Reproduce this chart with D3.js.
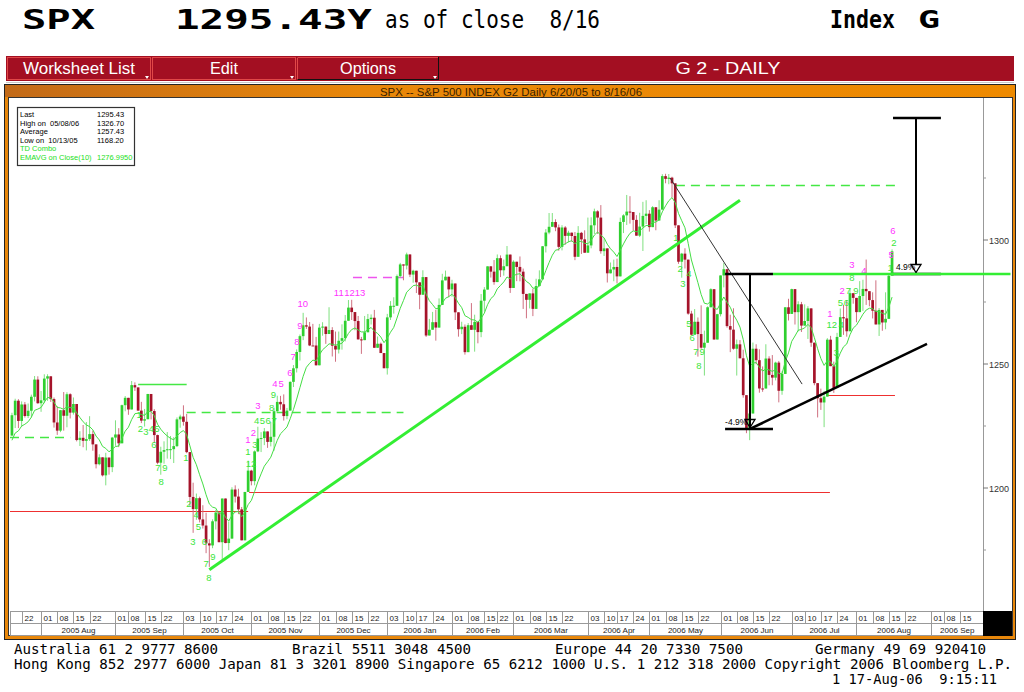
<!DOCTYPE html>
<html><head><meta charset="utf-8">
<script src="https://cdn.jsdelivr.net/npm/d3@7"></script>
<style>html,body{margin:0;padding:0;background:#fff;}svg{display:block}</style>
</head><body><svg id="c" width="1024" height="692"></svg>
<script>
// ---------------- DATA ----------------
const firstDate = "2005-07-19";
const axisEndDate = "2006-09-22";
const holidays = ["2005-09-05","2005-11-24","2005-12-26","2006-01-02","2006-01-16","2006-02-20","2006-04-14","2006-05-29","2006-07-04","2006-09-04"];

const opens = [
1221.13,1229.35,1235.20,1227.04,1233.68,1229.03,1231.16,1236.79,1243.72,
1234.18,1235.35,1244.12,1245.04,1235.86,1226.42,1223.13,1231.38,1229.13,1237.81,1230.39,1233.87,1219.34,1220.24,1219.02,1219.71,1221.73,1217.59,1209.59,1212.37,1205.10,1212.28,1208.41,
1220.33,1221.59,1218.02,1233.39,1236.36,1231.67,1241.48,1240.56,1231.20,1227.16,1227.73,1237.91,1231.02,1221.34,1210.20,1214.62,1215.29,1215.63,1215.66,1216.89,1227.68,
1228.81,1226.70,1214.47,1196.39,1191.49,1195.90,1187.33,1184.87,1177.68,1176.84,1186.57,1190.10,1178.14,1195.76,1177.80,1179.59,1199.38,1196.54,1191.38,1178.90,1198.41,
1207.01,1202.76,1214.76,1219.94,1220.14,1222.81,1218.59,1220.65,1230.96,1234.72,1233.76,1229.01,1231.21,1242.80,1248.27,1254.85,1261.23,1265.61,1265.08,1257.48,1257.46,
1249.48,1264.67,1265.08,1262.09,1263.70,1257.37,1255.84,1259.37,1260.43,1267.43,1272.74,1270.94,1267.32,1259.92,1259.62,1262.79,1268.12,1268.66,1256.54,1258.17,1254.42,
1248.29,1268.80,1273.46,1273.48,1285.45,1290.15,1289.69,1294.18,1286.06,1287.61,1282.93,1277.93,1285.04,1261.49,1263.82,1266.86,1264.68,1273.83,1283.72,1285.19,
1280.08,1282.46,1270.84,1264.03,1265.02,1254.78,1265.65,1263.78,1266.99,1262.86,1275.53,1280.00,1289.38,1287.24,1283.03,1292.67,1287.79,1289.43,1294.12,
1280.66,1291.24,1289.14,1287.23,1278.26,1275.88,1278.47,1272.23,1281.42,1284.13,1297.48,1303.02,1305.33,1307.25,1305.08,1297.23,1305.04,1301.67,1302.95,1301.61,1293.23,1302.89,1300.25,
1294.87,1297.81,1305.93,1311.56,1309.04,1295.50,1296.62,1286.57,1288.12,1289.12,1285.33,1307.28,1309.93,1311.46,1311.28,1308.11,1301.74,1305.41,1309.72,
1310.61,1305.19,1313.21,1307.85,1312.25,1325.76,1324.66,1325.14,1322.85,1305.92,1291.24,1294.50,1292.08,1270.32,1261.81,1267.03,1262.07,1256.58,1258.57,1272.88,1280.16,1259.87,
1270.09,1285.71,1288.22,1265.29,1263.85,1256.15,1257.93,1252.30,1237.44,1223.69,1230.04,1256.16,1251.54,1240.13,1240.12,1252.20,1245.60,1244.50,1250.56,1239.20,1246.00,1272.87,
1270.20,1280.19,1270.91,1274.08,1265.48,1267.34,1272.43,1258.60,1242.29,1236.20,1234.49,1236.86,1259.81,1249.13,1240.29,1260.91,1268.88,1268.40,1263.20,1278.55,
1276.66,1270.92,1277.41,1280.27,1279.36,1275.77,1271.48,1265.95,1271.81,1266.74,1268.21,1285.58];

const highs = [
1230.34,1236.00,1235.83,1234.92,1234.69,1234.08,1237.64,1245.15,1245.04,
1239.10,1245.86,1245.86,1245.04,1236.48,1232.96,1231.38,1238.70,1238.60,1238.20,1236.50,1233.87,1222.90,1225.40,1226.59,1228.96,1223.10,1217.59,1213.60,1212.37,1214.20,1212.28,1220.60,
1227.29,1224.12,1233.61,1237.06,1236.36,1243.13,1242.60,1240.56,1234.74,1231.88,1237.95,1237.91,1231.79,1221.52,1216.64,1218.83,1222.56,1220.98,1220.52,1228.46,1229.57,
1233.34,1229.88,1214.49,1202.14,1197.76,1196.52,1193.06,1190.02,1179.34,1187.38,1191.21,1190.10,1195.76,1195.76,1186.46,1200.30,1201.08,1199.71,1192.35,1198.41,1211.04,
1207.34,1215.17,1224.70,1222.52,1224.18,1222.81,1226.59,1232.41,1237.20,1237.15,1237.75,1232.29,1242.96,1249.58,1255.89,1261.90,1270.64,1268.78,1266.94,1266.18,1260.93,
1266.17,1266.85,1265.08,1272.89,1264.85,1263.08,1263.08,1266.00,1269.76,1275.80,1275.88,1270.94,1269.37,1260.94,1269.37,1270.19,1270.00,1271.83,1261.10,1258.64,1254.42,
1270.22,1275.37,1276.91,1286.09,1290.78,1290.15,1294.90,1294.18,1288.00,1287.61,1282.93,1287.79,1285.04,1268.19,1271.00,1271.87,1276.44,1286.38,1287.67,1285.20,
1283.96,1282.46,1270.87,1267.04,1265.94,1266.49,1274.56,1269.89,1266.99,1278.21,1281.00,1289.39,1289.47,1291.92,1294.17,1293.80,1292.11,1297.57,1294.12,
1291.80,1291.24,1293.37,1288.48,1278.26,1278.47,1280.33,1284.38,1287.77,1297.57,1304.40,1310.88,1310.88,1308.35,1306.24,1305.97,1305.60,1303.74,1303.00,1303.23,1305.60,1303.26,1303.90,
1309.04,1309.15,1312.64,1311.99,1314.07,1300.74,1296.62,1290.93,1292.09,1292.47,1309.02,1310.39,1318.16,1317.67,1311.28,1310.01,1310.97,1315.39,1316.04,
1312.05,1313.66,1313.21,1316.04,1326.53,1326.70,1326.60,1325.51,1322.85,1305.92,1294.81,1296.67,1292.08,1271.45,1272.15,1268.77,1273.67,1263.46,1273.26,1280.54,1280.16,1270.22,
1285.71,1290.68,1288.22,1269.88,1272.47,1259.85,1259.64,1255.77,1237.44,1231.46,1258.64,1257.96,1255.93,1249.01,1257.96,1253.13,1253.61,1250.92,1251.24,1247.06,1272.89,1276.30,
1280.38,1280.19,1275.28,1275.04,1274.06,1273.31,1272.43,1258.60,1242.29,1240.07,1239.15,1260.42,1261.35,1250.96,1262.56,1272.39,1273.89,1275.76,1280.42,1278.66,
1276.66,1283.42,1283.96,1292.12,1279.36,1278.90,1283.75,1272.58,1271.81,1278.90,1286.23,1296.21];

const lows = [
1221.13,1224.17,1224.16,1224.79,1228.40,1228.21,1228.44,1234.92,1233.99,
1230.71,1234.18,1235.15,1234.71,1224.36,1221.41,1222.51,1223.13,1224.48,1228.04,1229.60,1218.80,1216.94,1216.44,1215.17,1218.97,1215.02,1207.90,1209.13,1204.65,1201.07,1205.37,1206.40,
1216.99,1216.48,1218.02,1230.93,1229.51,1231.67,1239.15,1231.20,1226.16,1224.77,1227.73,1227.65,1218.15,1209.59,1205.35,1209.80,1211.84,1211.65,1210.07,1216.50,1224.30,
1225.15,1214.02,1192.75,1181.92,1187.17,1186.12,1183.65,1173.72,1168.20,1175.73,1183.27,1178.13,1170.55,1177.73,1174.92,1179.59,1194.13,1189.47,1178.89,1178.90,1198.41,
1201.07,1201.07,1214.45,1214.49,1217.29,1216.18,1216.78,1215.05,1230.72,1231.54,1227.18,1227.73,1231.21,1240.71,1246.59,1251.40,1259.61,1264.14,1257.21,1257.46,1249.39,
1249.48,1261.42,1258.12,1262.09,1253.03,1250.91,1254.24,1255.78,1259.12,1267.43,1267.74,1263.62,1259.92,1254.08,1259.62,1262.79,1265.92,1256.54,1256.54,1254.42,1248.29,
1245.74,1267.74,1270.30,1273.48,1284.66,1283.76,1288.12,1285.04,1282.78,1278.61,1272.08,1277.93,1260.92,1261.49,1263.82,1259.42,1264.68,1273.83,1283.72,1276.92,
1277.13,1267.72,1261.02,1262.05,1253.78,1254.78,1263.78,1254.98,1258.34,1260.80,1271.11,1280.00,1284.85,1281.95,1283.03,1285.04,1285.62,1289.43,1278.66,
1280.66,1283.41,1283.33,1272.20,1268.42,1272.40,1269.31,1272.23,1281.42,1284.13,1294.97,1302.32,1305.32,1303.55,1295.70,1295.81,1298.11,1299.05,1299.33,1291.87,1293.23,1294.38,1294.87,
1294.87,1296.65,1302.44,1302.44,1294.49,1293.56,1282.86,1286.54,1283.37,1282.49,1285.33,1302.79,1306.06,1306.60,1303.79,1301.74,1301.17,1295.57,1306.41,
1303.38,1305.19,1303.92,1307.85,1312.25,1322.87,1322.48,1317.14,1304.82,1290.38,1284.81,1288.51,1269.87,1261.75,1261.81,1252.98,1256.15,1245.34,1258.57,1272.88,1259.85,1259.87,
1269.19,1280.90,1264.64,1254.78,1255.77,1245.34,1252.30,1236.43,1222.10,1219.29,1230.04,1249.88,1238.43,1238.78,1240.09,1241.43,1241.43,1243.39,1234.53,1237.59,1245.94,1267.54,
1270.20,1265.91,1263.13,1262.92,1265.48,1260.11,1256.93,1241.43,1228.45,1231.49,1224.54,1236.86,1249.13,1238.36,1240.29,1260.91,1261.75,1261.02,1263.20,1274.31,
1266.84,1270.92,1271.42,1273.82,1273.26,1268.37,1265.95,1261.30,1263.40,1264.00,1268.21,1285.58];

const closes = [
1229.35,1235.20,1227.04,1233.68,1229.03,1231.16,1236.79,1243.72,1234.18,
1235.35,1244.12,1245.04,1235.86,1226.42,1223.13,1231.38,1229.13,1237.81,1230.39,1233.87,1219.34,1220.24,1219.02,1219.71,1221.73,1217.59,1209.59,1212.37,1205.10,1212.28,1208.41,1220.33,
1221.59,1218.02,1233.39,1236.36,1231.67,1241.48,1240.56,1231.20,1227.16,1227.73,1237.91,1231.02,1221.34,1210.20,1214.62,1215.29,1215.63,1215.66,1216.89,1227.68,1228.81,
1226.70,1214.47,1196.39,1191.49,1195.90,1187.33,1184.87,1177.68,1176.84,1186.57,1190.10,1178.14,1195.76,1177.80,1179.59,1199.38,1196.54,1191.38,1178.90,1198.41,1207.01,
1202.76,1214.76,1219.94,1220.14,1222.81,1218.59,1220.65,1230.96,1234.72,1233.76,1229.01,1231.21,1242.80,1248.27,1254.85,1261.23,1265.61,1265.08,1257.48,1257.46,1249.48,
1264.67,1265.08,1262.09,1263.70,1257.37,1255.84,1259.37,1260.43,1267.43,1272.74,1270.94,1267.32,1259.92,1259.62,1262.79,1268.12,1268.66,1256.54,1258.17,1254.42,1248.29,
1268.80,1273.46,1273.48,1285.45,1290.15,1289.69,1294.18,1286.06,1287.61,1282.93,1277.93,1285.04,1261.49,1263.82,1266.86,1264.68,1273.83,1283.72,1285.19,1280.08,
1282.46,1270.84,1264.03,1265.02,1254.78,1265.65,1263.78,1266.99,1262.86,1275.53,1280.00,1289.38,1287.24,1283.03,1292.67,1287.79,1289.43,1294.12,1280.66,
1291.24,1289.14,1287.23,1278.26,1275.88,1278.47,1272.23,1281.42,1284.13,1297.48,1303.02,1305.33,1307.25,1305.08,1297.23,1305.04,1301.67,1302.95,1301.61,1293.23,1302.89,1300.25,1294.87,
1297.81,1305.93,1311.56,1309.04,1295.50,1296.62,1286.57,1288.12,1289.12,1285.33,1307.28,1309.93,1311.46,1311.28,1308.11,1301.74,1305.41,1309.72,1310.61,
1305.19,1313.21,1307.85,1312.25,1325.76,1324.66,1325.14,1322.85,1305.92,1291.24,1294.50,1292.08,1270.32,1261.81,1267.03,1262.07,1256.58,1258.57,1272.88,1280.16,1259.87,1270.09,
1285.71,1288.22,1265.29,1263.85,1256.15,1257.93,1252.30,1237.44,1223.69,1230.04,1256.16,1251.54,1240.13,1240.12,1252.20,1245.60,1244.50,1250.56,1239.20,1246.00,1272.87,1270.20,
1280.19,1270.91,1274.08,1265.48,1267.34,1272.43,1258.60,1242.29,1236.20,1234.49,1236.86,1259.81,1249.13,1240.29,1260.91,1268.88,1268.40,1263.20,1278.55,1276.66,
1270.92,1277.41,1280.27,1279.36,1275.77,1271.48,1265.95,1271.81,1266.74,1268.21,1285.58,1295.43];

const emaPeriod = 10;
const emaSeed = 1217;

const tickDates = ["2005-07-22","2005-08-01","2005-08-08","2005-08-15","2005-08-22","2005-09-01","2005-09-08","2005-09-15","2005-09-22","2005-10-03","2005-10-10","2005-10-17","2005-10-24","2005-11-01","2005-11-08","2005-11-15","2005-11-22","2005-12-01","2005-12-08","2005-12-15","2005-12-22","2006-01-03","2006-01-10","2006-01-17","2006-01-24","2006-02-01","2006-02-08","2006-02-15","2006-02-22","2006-03-01","2006-03-08","2006-03-15","2006-03-22","2006-04-03","2006-04-10","2006-04-17","2006-04-24","2006-05-01","2006-05-08","2006-05-15","2006-05-22","2006-06-01","2006-06-08","2006-06-15","2006-06-22","2006-07-03","2006-07-10","2006-07-17","2006-07-24","2006-08-01","2006-08-08","2006-08-15","2006-08-22","2006-09-01","2006-09-08","2006-09-15"];
const monthStarts = ["2005-08-01","2005-09-01","2005-10-03","2005-11-01","2005-12-01","2006-01-03","2006-02-01","2006-03-01","2006-04-03","2006-05-01","2006-06-01","2006-07-03","2006-08-01","2006-09-01"];
const monthLabels = ["2005 Aug","2005 Sep","2005 Oct","2005 Nov","2005 Dec","2006 Jan","2006 Feb","2006 Mar","2006 Apr","2006 May","2006 Jun","2006 Jul","2006 Aug","2006 Sep"];

const yLabelTicks = [1200,1250,1300];
const yMinorTicks = [1175,1225,1275,1325];

const legendLabels = ["Last","High on  05/08/06","Average","Low on  10/13/05","TD Combo","EMAVG on Close(10)"];
const legendValues = ["1295.43","1326.70","1257.43","1168.20","","1276.9950"];
const legendKinds = ["price","price","price","price","study","study"];

// TD Combo count labels: [trading-day index, price level, text, kind]
const tdLabels = [
[39.3,1229.5,"1","g"],[39.7,1224.0,"2","g"],[41.4,1222.8,"3","g"],[43.1,1224.0,"4","g"],[44.8,1224.0,"5","g"],[43.9,1217.6,"6","g"],[45.1,1208.1,"7","g"],[47.3,1208.1,"9","g"],[46.1,1202.6,"8","g"],
[53.8,1212.1,"1","g"],[54.7,1193.5,"2","g"],[55.9,1178.2,"3","g"],[56.9,1189.1,"4","g"],[57.6,1184.5,"5","g"],[59.5,1178.5,"6","g"],[60.0,1169.3,"7","g"],[62.1,1172.2,"9","g"],[60.9,1163.9,"8","g"],
[72.9,1214.5,"1","g"],[73.9,1210.0,"12","g"],[75.1,1217.6,"3","g"],[75.6,1227.0,"4","g"],[77.4,1227.0,"5","g"],[79.2,1227.0,"6","g"],[81.0,1227.0,"7","g"],[80.3,1232.5,"8","g"],[80.8,1237.5,"9","g"],
[72.9,1219.6,"1","m"],[74.6,1222.4,"2","m"],[76.0,1233.3,"3","m"],[81.3,1242.2,"4","m"],[83.2,1242.2,"5","m"],[85.9,1246.4,"6","m"],[86.9,1252.8,"7","m"],[88.1,1258.9,"8","m"],[89.0,1265.3,"9","m"],[89.9,1274.2,"10","m"],
[101.0,1278.6,"11","m"],[104.3,1278.6,"12","m"],[107.6,1278.6,"13","m"],
[205.2,1300.8,"1","g"],[206.5,1288.3,"2","g"],[209.2,1286.3,"4","g"],[207.4,1282.5,"3","g"],[209.2,1266.1,"5","g"],[210.2,1260.5,"6","g"],[211.4,1254.8,"7","g"],[213.3,1254.8,"9","g"],[212.3,1249.5,"8","g"],
[252.8,1270.4,"1","m"],[253.4,1265.7,"12","g"],[256.3,1265.7,"4","g"],[254.7,1254.4,"3","g"],
[256.6,1279.6,"2","m"],[256.0,1274.8,"5","g"],[257.9,1274.8,"6","g"],[258.5,1279.6,"7","g"],[260.8,1279.6,"9","g"],[259.6,1284.7,"8","g"],[259.6,1290.0,"3","m"],[263.3,1287.5,"4","m"],
[272.3,1303.6,"6","m"],[272.6,1298.8,"2","g"],[271.7,1294.0,"5","m"],[271.4,1289.0,"1","g"]
];

// horizontal study levels: [from index, to index, price, kind]
const levels = [
[-0.6,18,1220.6,"greenDash"],[39,54,1241.9,"green"],[54,121,1230.6,"greenDash"],
[-0.6,73,1190.7,"red"],[73.3,252.8,1198.4,"red"],[105.4,120.9,1285.1,"magDash"],
[205.2,272.9,1322.2,"greenDash"],[252.2,272.9,1237.5,"red"]
];
const breakoutLevel = [235.2,308.6,1286.3];
// trend lines: [index1, price1, index2, price2]
const upTrend = [61,1167,225,1316];
const supportTrend = [228.1,1223.8,282.8,1258.1];
const downTrend = [203.4,1325,244.2,1241.9];
// measured moves: [left index, right index, stem index, start price, end price, label]
const projections = [
[220.4,235.2,228.1,1286.3,1223.8,"-4.9%"],
[272.3,287.1,279.4,1349.2,1286.3,"4.9%"]
];

// --------------- RENDER ---------------
const svg = d3.select("#c");
const sans = "'Liberation Sans', Arial, sans-serif";
const narrow = "'Liberation Sans Narrow', 'Arial Narrow', 'Liberation Sans', Arial, sans-serif";
const mono = "'DejaVu Sans Mono', 'Liberation Mono', monospace";

// trading calendar
const hol = new Set(holidays);
const fmt = d3.utcFormat("%Y-%m-%d");
const allDays = d3.utcDay.range(new Date(firstDate+"T00:00Z"), d3.utcDay.offset(new Date(axisEndDate+"T00:00Z"),1))
  .filter(d => d.getUTCDay()!==0 && d.getUTCDay()!==6 && !hol.has(fmt(d))).map(fmt);
const dayIndex = new Map(allDays.map((d,i)=>[d,i]));

const x = d3.scaleLinear().domain([-0.6, 299.8]).range([10, 982]);
const y = d3.scaleLinear().domain([1200, 1300]).range([488, 240]);

// header
const hdr = svg.append("g").attr("fill","#000");
hdr.append("text").attr("x",22).attr("y",29).attr("font-family",mono).attr("font-weight","bold")
  .attr("font-size",27).attr("textLength",73).attr("lengthAdjust","spacingAndGlyphs").text("SPX");
hdr.append("text").attr("x",175).attr("y",29).attr("font-family",mono).attr("font-weight","bold")
  .attr("font-size",27).attr("textLength",197).attr("lengthAdjust","spacingAndGlyphs").text("1295.43Y");
hdr.append("text").attr("x",385).attr("y",28).attr("font-family",mono)
  .attr("font-size",25).attr("textLength",215).attr("lengthAdjust","spacingAndGlyphs").style("white-space","pre").text("as of close  8/16");
hdr.append("text").attr("x",830).attr("y",28).attr("font-family",mono).attr("font-weight","bold")
  .attr("font-size",25).attr("textLength",65).attr("lengthAdjust","spacingAndGlyphs").text("Index");
hdr.append("text").attr("x",918).attr("y",28).attr("font-family",mono).attr("font-weight","bold")
  .attr("font-size",25).attr("textLength",22).attr("lengthAdjust","spacingAndGlyphs").text("G");

// toolbar
const tb = svg.append("g");
tb.append("rect").attr("x",6).attr("y",56).attr("width",1008).attr("height",25).attr("fill","#a30f22");
const buttons = [[7,144,"Worksheet List",112],[152,144,"Edit",28],[297,142,"Options",56]];
buttons.forEach(([bx,bw,lab,tl],k)=>{
  tb.append("rect").attr("x",bx+0.5).attr("y",57.5).attr("width",bw-1).attr("height",22)
    .attr("fill","#a30f22").attr("stroke",k===2?"#111":"#e04848").attr("stroke-width",1);
  if(k===2) tb.append("path").attr("d",`M${bx+0.5},79.5V57.5H${bx+bw-1}`).attr("stroke","#e04848").attr("fill","none");
  tb.append("text").attr("x",bx+bw/2).attr("y",74).attr("text-anchor","middle").attr("fill","#fff")
    .attr("font-family",narrow).attr("font-size",16).attr("textLength",tl).attr("lengthAdjust","spacingAndGlyphs").text(lab);
  tb.append("path").attr("d",`M${bx+bw-6},76h4l-2,3z`).attr("fill","#fff");
});
tb.append("text").attr("x",728).attr("y",74).attr("text-anchor","middle").attr("fill","#fff")
  .attr("font-family",narrow).attr("font-size",17).attr("textLength",105).attr("lengthAdjust","spacingAndGlyphs").text("G  2 - DAILY");
svg.append("line").attr("x1",6).attr("x2",1014).attr("y1",82.5).attr("y2",82.5).attr("stroke","#c8c8c8");

// frame
const defs = svg.append("defs");
const gr = defs.append("linearGradient").attr("id","tg").attr("x1",0).attr("x2",1).attr("y1",0).attr("y2",0);
gr.append("stop").attr("offset",0).attr("stop-color","#c26a18");
gr.append("stop").attr("offset",0.35).attr("stop-color","#e8870a");
gr.append("stop").attr("offset",1).attr("stop-color","#ee8a00");
defs.append("clipPath").attr("id","plot").append("rect").attr("x",10).attr("y",98).attr("width",973).attr("height",513);

svg.append("rect").attr("x",4.5).attr("y",84.5).attr("width",1011).attr("height",555).attr("fill","#e8870a").attr("stroke","#222");
svg.append("rect").attr("x",5).attr("y",85).attr("width",1010).attr("height",12).attr("fill","url(#tg)");
svg.append("rect").attr("x",8.5).attr("y",97.5).attr("width",1004).attr("height",538).attr("fill","#fff").attr("stroke","#333");
svg.append("text").attr("x",511).attr("y",96).attr("text-anchor","middle").attr("font-family",sans)
  .attr("font-size",11).attr("fill","#3a2200").attr("textLength",262).attr("lengthAdjust","spacingAndGlyphs")
  .text("SPX -- S&P 500 INDEX G2 Daily 6/20/05 to 8/16/06");

// y axis
const ya = svg.append("g");
ya.append("line").attr("x1",983.5).attr("x2",983.5).attr("y1",98).attr("y2",611).attr("stroke","#999");
yLabelTicks.forEach(v=>{
  ya.append("line").attr("x1",983).attr("x2",988).attr("y1",y(v)).attr("y2",y(v)).attr("stroke","#777");
  ya.append("text").attr("x",989).attr("y",y(v)+3.5).attr("font-family",sans).attr("font-size",9).attr("fill","#333").text(v);
});
yMinorTicks.forEach(v=>{
  ya.append("line").attr("x1",983).attr("x2",986).attr("y1",y(v)).attr("y2",y(v)).attr("stroke","#999");
});

// x axis
const xa = svg.append("g");
xa.append("rect").attr("x",983).attr("y",611).attr("width",29).attr("height",25).attr("fill","#000");
[611.5,623.5,635.5].forEach(yy=>xa.append("line").attr("x1",10).attr("x2",983).attr("y1",yy).attr("y2",yy).attr("stroke","#999"));
xa.append("line").attr("x1",10.5).attr("x2",10.5).attr("y1",611).attr("y2",636).attr("stroke","#999");
tickDates.forEach(d=>{
  const xx = Math.round(x(dayIndex.get(d)))+0.5;
  xa.append("line").attr("x1",xx).attr("x2",xx).attr("y1",611).attr("y2",623).attr("stroke","#999");
  xa.append("text").attr("x",xx+2).attr("y",621).attr("font-family",sans).attr("font-size",8).attr("fill","#222").text(d.slice(8));
});
monthStarts.forEach((d,k)=>{
  const x0 = Math.round(x(dayIndex.get(d)))+0.5;
  const x1 = k+1<monthStarts.length ? Math.round(x(dayIndex.get(monthStarts[k+1])))+0.5 : 983;
  xa.append("line").attr("x1",x0).attr("x2",x0).attr("y1",623).attr("y2",636).attr("stroke","#999");
  xa.append("text").attr("x",(x0+x1)/2).attr("y",633).attr("text-anchor","middle").attr("font-family",sans)
    .attr("font-size",8).attr("fill","#222").text(monthLabels[k]);
});

// plot
const plot = svg.append("g").attr("clip-path","url(#plot)");
const levelStyle = {
  greenDash:{stroke:"#44e844",w:1.3,dash:"9,6"},
  green:{stroke:"#44e844",w:1.3,dash:null},
  red:{stroke:"#ee3030",w:1,dash:null},
  magDash:{stroke:"#ee55ee",w:1.3,dash:"9,6"}
};
levels.forEach(([a,b,p,k])=>{
  const s=levelStyle[k];
  plot.append("line").attr("x1",x(a)).attr("x2",x(b)).attr("y1",Math.round(y(p))+0.5).attr("y2",Math.round(y(p))+0.5)
    .attr("stroke",s.stroke).attr("stroke-width",s.w).attr("stroke-dasharray",s.dash);
});

const data = closes.map((c,i)=>({i,o:opens[i],h:Math.max(highs[i],opens[i],c),l:Math.min(lows[i],opens[i],c),c}));
const up="#2fcf2f", dn="#a5132a";
const cg = plot.append("g");
cg.selectAll("line.w").data(data).enter().append("line")
  .attr("x1",d=>x(d.i)).attr("x2",d=>x(d.i)).attr("y1",d=>y(d.h)).attr("y2",d=>y(d.l))
  .attr("stroke",d=>d.c>=d.o?"#7fe07f":"#cf7080").attr("stroke-width",1);
cg.selectAll("rect.b").data(data).enter().append("rect")
  .attr("x",d=>x(d.i)-1.35).attr("width",2.7)
  .attr("y",d=>y(Math.max(d.o,d.c))).attr("height",d=>Math.max(1,Math.abs(y(d.o)-y(d.c))))
  .attr("fill",d=>d.c>=d.o?up:dn);

// EMA
let e = emaSeed; const alpha = 2/(emaPeriod+1);
const ema = closes.map(c=> (e = e + alpha*(c-e)));
plot.append("path").datum(ema).attr("fill","none").attr("stroke","#44dd44").attr("stroke-width",1)
  .attr("d",d3.line().x((v,i)=>x(i)).y(v=>y(v)));

// trend lines
plot.append("line").attr("x1",x(upTrend[0])).attr("y1",y(upTrend[1])).attr("x2",x(upTrend[2])).attr("y2",y(upTrend[3]))
  .attr("stroke","#33ee33").attr("stroke-width",3);
plot.append("line").attr("x1",x(downTrend[0])).attr("y1",y(downTrend[1])).attr("x2",x(downTrend[2])).attr("y2",y(downTrend[3]))
  .attr("stroke","#333").attr("stroke-width",1);
plot.append("line").attr("x1",x(supportTrend[0])).attr("y1",y(supportTrend[1])).attr("x2",x(supportTrend[2])).attr("y2",y(supportTrend[3]))
  .attr("stroke","#000").attr("stroke-width",2.5);
svg.append("line").attr("x1",x(breakoutLevel[0])).attr("x2",x(breakoutLevel[1])).attr("y1",y(breakoutLevel[2])).attr("y2",y(breakoutLevel[2]))
  .attr("stroke","#33ee33").attr("stroke-width",2.5);

// measured move projections
projections.forEach(([a,b,s,p1,p2,lab],k)=>{
  const g = plot.append("g");
  g.append("line").attr("x1",x(a)).attr("x2",x(b)).attr("y1",y(p1)).attr("y2",y(p1)).attr("stroke","#000").attr("stroke-width",2.5);
  g.append("line").attr("x1",x(a)).attr("x2",x(b)).attr("y1",y(p2)).attr("y2",y(p2)).attr("stroke","#000").attr("stroke-width",2.5);
  g.append("line").attr("x1",x(s)).attr("x2",x(s)).attr("y1",y(p1)).attr("y2",y(p2)-1).attr("stroke","#000").attr("stroke-width",2);
  const tx=x(s), ty=y(p2)-1.5;
  g.append("path").attr("d",`M${tx-5},${ty-8}H${tx+5}L${tx},${ty}Z`).attr("fill",k===1?"#fff":"none").attr("stroke","#000").attr("stroke-width",1.3);
  g.append("text").attr("x",k===0?x(a):x(a)+3).attr("y",y(p2)-4).attr("font-family",sans).attr("font-size",8.5).attr("fill","#000").text(lab);
});

// TD combo labels
const tdColor = {g:"#3ae63a", m:"#ff33ff"};
plot.selectAll("text.td").data(tdLabels).enter().append("text")
  .attr("x",d=>x(d[0])).attr("y",d=>y(d[1])+3.3).attr("text-anchor","middle")
  .attr("font-family",sans).attr("font-size",9.5).attr("fill",d=>tdColor[d[3]]).text(d=>d[2]);

// legend
const lg = svg.append("g");
lg.append("rect").attr("x",17.5).attr("y",107.5).attr("width",117).attr("height",58).attr("fill","#fff").attr("stroke","#333").attr("stroke-width",1.2);
legendLabels.forEach((t,k)=>{
  const col = legendKinds[k]==="price" ? "#000" : "#22e022";
  const yy = 117 + k*8.6;
  lg.append("text").attr("x",20).attr("y",yy).attr("font-family",sans).attr("font-size",7.5).attr("fill",col).style("white-space","pre").text(t);
  if(legendValues[k]) lg.append("text").attr("x",97).attr("y",yy).attr("font-family",sans).attr("font-size",7.5).attr("fill",col).text(legendValues[k]);
});

// footer
const ft = svg.append("g").attr("font-family",mono).attr("font-size",14).attr("fill","#000");
[[14,654,"Australia 61 2 9777 8600",204],[292,654,"Brazil 5511 3048 4500",179],[555,654,"Europe 44 20 7330 7500",188],[815,654,"Germany 49 69 920410",171],
 [14,669,"Hong Kong 852 2977 6000 Japan 81 3 3201 8900 Singapore 65 6212 1000 U.S. 1 212 318 2000 Copyright 2006 Bloomberg L.P.",998],
 [832,684,"1 17-Aug-06  9:15:11",165]].forEach(([fx,fy,t,tl])=>{
  ft.append("text").attr("x",fx).attr("y",fy).attr("textLength",tl).attr("lengthAdjust","spacingAndGlyphs").style("white-space","pre").text(t);
});
</script></body></html>
